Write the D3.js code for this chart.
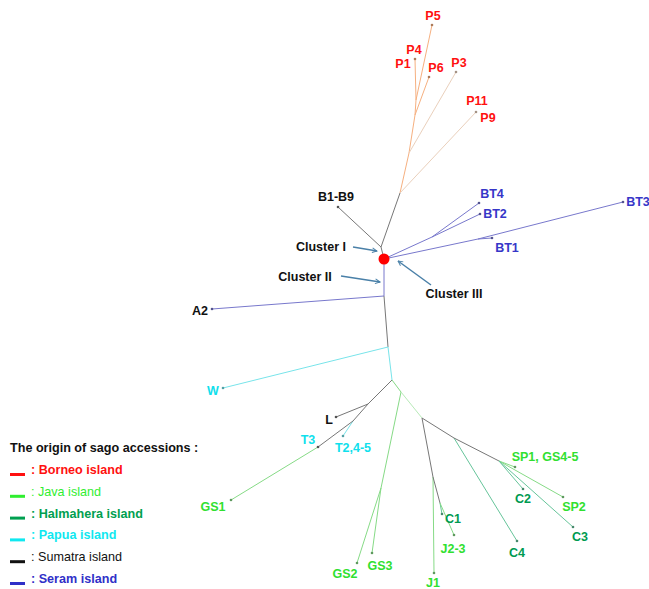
<!DOCTYPE html>
<html>
<head>
<meta charset="utf-8">
<script src="https://cdn.jsdelivr.net/npm/d3@7"></script>
<style>
  body { margin: 0; background: #fff; }
  text { font-family: Arial, "Liberation Sans", sans-serif; }
</style>
</head>
<body>
<div id="tree"></div>
<script>
// tree layout (layout units)
const nodeNames = ["R","n1","n2","n3","n4","n5","P5","P1","P6","P3","P11","B1-B9",
  "s1","s2","BT4","BT2","BT1","BT3","n6","A2","n7","W","n8","n9","L","n10","T2,4-5","T3","GS1",
  "n11","n12","GS2","GS3","n13","n14","J1","n15","C1","J2-3","n16","C4","n17","SP1","C2","SP2","C3"]
const nodeX = [384,381,400,409,415,416,432,415,429,456,476,338,
  432,478,479,480,492,623,384,212,388,223,392,368,336,353,343,318,231,
  401,381,357,372,422,433,434,440,442,454,454,517,499,515,523,563,573]
const nodeY = [259,247,193,153,115,100,25,59,77,72,112,207,
  237,239,203,214,238,202,296,309,347,388,380,404,417,421,436,447,500,
  392,488,563,553,418,477,573,503,514,535,438,541,461,467,489,497,527]

// edges: [from, to, origin group]
const edges = [
  ["R","n1","int"],["n1","n2","int"],["n1","B1-B9","int"],
  ["n2","n3","bor"],["n2","P11","borL"],["n3","n4","bor"],["n3","P3","borL"],
  ["n4","n5","bor"],["n4","P6","bor"],["n5","P5","bor"],["n5","P1","bor"],
  ["R","s1","ser"],["s1","BT4","ser"],["s1","BT2","ser"],["R","s2","ser"],["s2","BT1","ser"],["s2","BT3","ser"],
  ["R","n6","ser"],["n6","A2","ser"],["n6","n7","int"],["n7","W","pap"],["n7","n8","pap"],
  ["n8","n9","int"],["n9","L","int"],["n9","n10","int"],["n10","T2,4-5","pap"],["n10","T3","int"],["T3","GS1","jav"],
  ["n8","n11","jav"],["n11","n12","jav"],["n12","GS2","jav"],["n12","GS3","jav"],["n11","n13","javL"],
  ["n13","n14","int"],["n14","J1","jav"],["n14","n15","int"],["n15","C1","hal"],["n15","J2-3","jav"],
  ["n13","n16","int"],["n16","C4","hal"],["n16","n17","int"],
  ["n17","SP1","jav"],["n17","SP2","jav"],["n17","C2","hal"],["n17","C3","hal"]
]

// tip labels: [node, text, label x, label y, origin]
const tipLabels = [
  ["P5","P5",433,20,"bor"],["P1","P4",414,54,"bor"],["P1","P1",403,68,"bor"],["P6","P6",436,72,"bor"],
  ["P3","P3",459,67,"bor"],["P11","P11",477,105,"bor"],["P11","P9",488,122,"bor"],
  ["B1-B9","B1-B9",336,201,"sum"],
  ["BT4","BT4",492,198,"ser"],["BT2","BT2",495,218,"ser"],["BT1","BT1",507,252,"ser"],["BT3","BT3",638,206,"ser"],
  ["A2","A2",200,315,"sum"],["W","W",213,395,"pap"],["L","L",329,424,"sum"],
  ["T3","T3",308,444,"pap"],["T2,4-5","T2,4-5",353,452,"pap"],["GS1","GS1",213,511,"jav"],
  ["GS2","GS2",345,578,"jav"],["GS3","GS3",380,570,"jav"],["J1","J1",433,587,"jav"],
  ["C1","C1",453,523,"hal"],["J2-3","J2-3",453,553,"jav"],["C4","C4",517,557,"hal"],
  ["C2","C2",523,503,"hal"],["SP1","SP1, GS4-5",545,461,"jav"],["SP2","SP2",574,511,"jav"],["C3","C3",580,541,"hal"]
]

const clusterLabels = ["Cluster I","Cluster II","Cluster III"]
const clusterLabelX = [321,305,454]
const clusterLabelY = [251,281,298]
const arrowFrom = [[353,247],[341,276],[431,285]]
const arrowTo = [[377,251],[380,282],[398,261]]

const legendTitle = "The origin of sago accessions :"
const legendNames = ["Borneo island","Java island","Halmahera island","Papua island","Sumatra island","Seram island"]
const legendKeys = ["bor","jav","hal","pap","sum","ser"]

async function drawTree() {
  const dimensions = { width: 649, height: 589 }

  const lineColors = {
    int: "#777", bor: "#f6b080", borL: "#ead0bc", ser: "#7878cc",
    pap: "#78e4ea", jav: "#86da86", javL: "#b8eab8", hal: "#66c49a", sum: "#333"
  }
  const textColors = {
    bor: "#ff1010", ser: "#3636c8", sum: "#111", pap: "#10e0ec", jav: "#30e030", hal: "#009a50"
  }
  const legendColors = {
    bor: "#ff1010", jav: "#30ee30", hal: "#00a050", pap: "#10e8f0", sum: "#111", ser: "#3030c8"
  }

  const wrapper = d3.select("#tree")
    .append("svg")
      .attr("width", dimensions.width)
      .attr("height", dimensions.height)

  const xScale = d3.scaleLinear().domain([0, 649]).range([0, dimensions.width])
  const yScale = d3.scaleLinear().domain([0, 589]).range([0, dimensions.height])

  const nodes = new Map(nodeNames.map((n, i) => [n, { x: nodeX[i], y: nodeY[i] }]))

  wrapper.append("defs").append("marker")
      .attr("id", "arrow")
      .attr("viewBox", "0 0 10 10")
      .attr("refX", 9)
      .attr("refY", 5)
      .attr("markerWidth", 6)
      .attr("markerHeight", 6)
      .attr("markerUnits", "userSpaceOnUse")
      .attr("orient", "auto")
    .append("path")
      .attr("d", "M1,1 L9,5 L1,9")
      .attr("fill", "none")
      .attr("stroke", "#4a80a8")
      .attr("stroke-width", 1.6)

  // branches
  wrapper.append("g").selectAll("line")
    .data(edges)
    .join("line")
      .attr("x1", d => xScale(nodes.get(d[0]).x))
      .attr("y1", d => yScale(nodes.get(d[0]).y))
      .attr("x2", d => xScale(nodes.get(d[1]).x))
      .attr("y2", d => yScale(nodes.get(d[1]).y))
      .attr("stroke", d => lineColors[d[2]])
      .attr("stroke-width", 1)

  // tip dots
  const tips = edges.filter(d => !d[1].match(/^(n\d+|s\d)$/))
  wrapper.append("g").selectAll("circle")
    .data(tips)
    .join("circle")
      .attr("cx", d => xScale(nodes.get(d[1]).x))
      .attr("cy", d => yScale(nodes.get(d[1]).y))
      .attr("r", 1.3)
      .attr("fill", d => d3.color(lineColors[d[2]]).darker(1))

  // root dot
  wrapper.append("circle")
      .attr("cx", xScale(nodes.get("R").x))
      .attr("cy", yScale(nodes.get("R").y))
      .attr("r", 5.5)
      .attr("fill", "#ff0000")

  // tip labels
  wrapper.append("g").selectAll("text")
    .data(tipLabels)
    .join("text")
      .attr("x", d => xScale(d[2]))
      .attr("y", d => yScale(d[3]))
      .attr("text-anchor", "middle")
      .attr("font-size", 12.5)
      .attr("font-weight", "bold")
      .attr("fill", d => textColors[d[4]])
      .text(d => d[1])

  // cluster callouts
  wrapper.append("g").selectAll("line")
    .data(arrowFrom)
    .join("line")
      .attr("x1", d => xScale(d[0]))
      .attr("y1", d => yScale(d[1]))
      .attr("x2", (d, i) => xScale(arrowTo[i][0]))
      .attr("y2", (d, i) => yScale(arrowTo[i][1]))
      .attr("stroke", "#4a80a8")
      .attr("stroke-width", 1.4)
      .attr("marker-end", "url(#arrow)")

  wrapper.append("g").selectAll("text")
    .data(clusterLabels)
    .join("text")
      .attr("x", (d, i) => xScale(clusterLabelX[i]))
      .attr("y", (d, i) => yScale(clusterLabelY[i]))
      .attr("text-anchor", "middle")
      .attr("font-size", 12.5)
      .attr("font-weight", "bold")
      .attr("fill", "#111")
      .text(d => d)

  // legend
  const legend = wrapper.append("g")
  legend.append("text")
      .attr("x", 10)
      .attr("y", 452)
      .attr("font-size", 12.6)
      .attr("font-weight", "bold")
      .attr("fill", "#111")
      .text(legendTitle)

  const rows = legend.selectAll(".row")
    .data(legendNames)
    .join("g")
      .attr("class", "row")
      .attr("transform", (d, i) => `translate(0, ${474 + i * 21.8})`)

  rows.append("rect")
      .attr("x", 10)
      .attr("y", -1)
      .attr("width", 15)
      .attr("height", 3)
      .attr("fill", (d, i) => legendColors[legendKeys[i]])

  rows.append("text")
      .attr("x", 31)
      .attr("y", 0)
      .attr("font-size", 12.6)
      .attr("font-weight", (d, i) => (legendKeys[i] == "jav" || legendKeys[i] == "sum") ? "normal" : "bold")
      .attr("fill", (d, i) => legendColors[legendKeys[i]])
      .text(d => ": " + d)
}

drawTree()
</script>
</body>
</html>
